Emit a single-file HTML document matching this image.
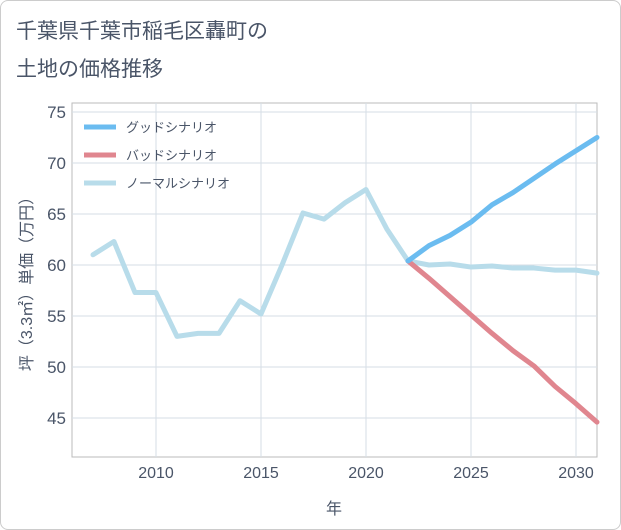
<!DOCTYPE html>
<html><head><meta charset="utf-8"><style>
body{margin:0;background:#fff;font-family:"Liberation Sans","Noto Sans CJK JP",sans-serif;}
#card{position:absolute;left:0;top:0;width:619px;height:528px;border:1px solid #ccc;border-radius:8px;background:#fff;}
</style></head><body>
<div id="card">
<svg id="chart" width="621" height="530" style="position:absolute;left:-1px;top:-1px">
<text x="16" y="38" font-size="21" fill="#4a5568">千葉県千葉市稲毛区轟町の</text>
<text x="16" y="76" font-size="21" fill="#4a5568">土地の価格推移</text>
<g id="grid"></g><g id="lines"></g><g id="legend"></g>
</svg></div>
<script>
const years=[2007,2008,2009,2010,2011,2012,2013,2014,2015,2016,2017,2018,2019,2020,2021,2022,2023,2024,2025,2026,2027,2028,2029,2030,2031];
const normal=[61,62.3,57.3,57.3,53,53.3,53.3,56.5,55.2,60,65.1,64.5,66.1,67.4,63.5,60.4,60,60.1,59.8,59.9,59.7,59.7,59.5,59.5,59.2];
const goodYears=[2022,2023,2024,2025,2026,2027,2028,2029,2030,2031];
const good=[60.4,61.9,62.9,64.2,65.9,67.1,68.5,69.9,71.2,72.5];
const bad=[60.4,58.7,56.9,55.1,53.3,51.6,50.1,48.1,46.4,44.6];
const xTicks=[2010,2015,2020,2025,2030];
const yTicks=[45,50,55,60,65,70,75];
const NS="http://www.w3.org/2000/svg";
const L=72,R=597,T=103,B=457;
const TC='#4a5568';
const xs=y=>156+(y-2010)*21;
const ys=v=>112+(75-v)*10.2;
function mk(t,a,p){const e=document.createElementNS(NS,t);for(const k in a)e.setAttribute(k,a[k]);p.appendChild(e);return e;}
const g=document.getElementById('grid');
mk('rect',{x:L,y:T,width:R-L,height:B-T,fill:'none',stroke:'#bbb','stroke-width':1},g);
xTicks.forEach(t=>{const l=mk('line',{x1:xs(t),x2:xs(t),y1:T,y2:B,stroke:'#d5dee6'},g);

const tx=mk('text',{x:xs(t),y:478,'text-anchor':'middle','font-size':16,fill:TC},g);tx.textContent=t;
});
yTicks.forEach(t=>{const l=mk('line',{x1:L,x2:R,y1:ys(t),y2:ys(t),stroke:'#d5dee6'},g);

const tx=mk('text',{x:66,y:ys(t)+6,'text-anchor':'end','font-size':17,fill:TC},g);tx.textContent=t;
});
const xt=mk('text',{x:334,y:514,'text-anchor':'middle','font-size':16,fill:TC},g);xt.textContent='年';

const yt=mk('text',{x:0,y:0,'text-anchor':'middle','font-size':16,fill:TC,transform:'translate(32,280) rotate(-90)'},g);yt.textContent='坪（3.3㎡）単価（万円）';

const ln=document.getElementById('lines');
function series(xv,yv,c,name){const p=mk('polyline',{points:xv.map((x,i)=>xs(x)+','+ys(yv[i])).join(' '),fill:'none',stroke:c,'stroke-width':5,'stroke-linejoin':'round','stroke-linecap':'round'},ln);
}
series(years,normal,'#b8dcea','normal-scenario-line');
series(goodYears,bad,'#e0868f','bad-scenario-line');
series(goodYears,good,'#6bbcf0','good-scenario-line');
const lg=document.getElementById('legend');
const items=[['グッドシナリオ','#6bbcf0'],['バッドシナリオ','#e0868f'],['ノーマルシナリオ','#b8dcea']];
items.forEach((it,i)=>{const y=127+i*28;
const l=mk('line',{x1:84,x2:116,y1:y,y2:y,stroke:it[1],'stroke-width':5},lg);

const t=mk('text',{x:126,y:y+5,'font-size':13,fill:TC},lg);t.textContent=it[0];
});
</script></body></html>
